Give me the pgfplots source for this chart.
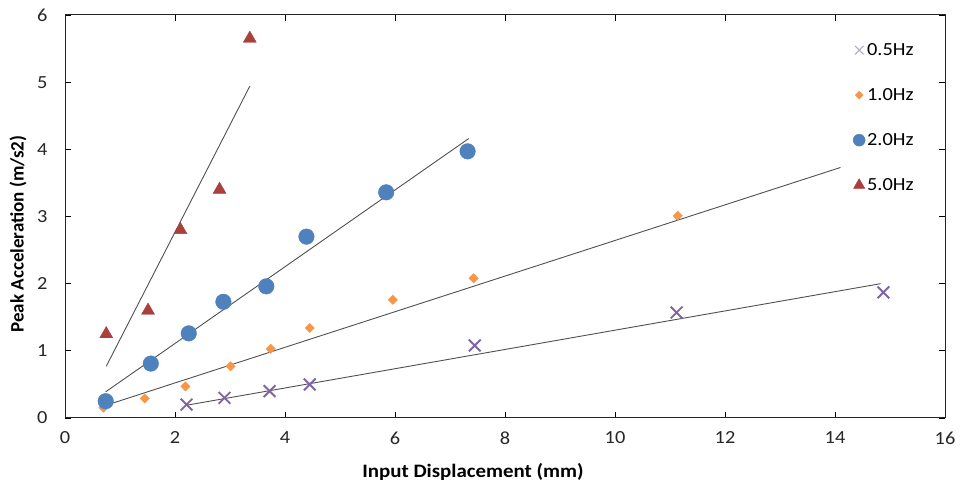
\documentclass[border=0pt]{standalone}
\usepackage{fontspec}
\setmainfont{Carlito}[FakeStretch=1.1]
\newfontfamily\vfont{Carlito}
\usepackage{pgfplots}
\pgfplotsset{compat=1.18}
\definecolor{cpurple}{HTML}{7F64A2}
\definecolor{clpurple}{HTML}{B3A5C8}
\definecolor{corange}{HTML}{F79646}
\definecolor{cblue}{HTML}{4F81BD}
\definecolor{cred}{HTML}{A9403C}
\definecolor{ctrend}{HTML}{505050}
\begin{document}
\begin{tikzpicture}[x=1pt,y=1pt]
\useasboundingbox (0,0) rectangle (965,486);
\begin{axis}[
  at={(65pt,68pt)}, anchor=south west,
  scale only axis, width=880pt, height=403pt,
  xmin=0, xmax=16, ymin=0, ymax=6,
  xtick={0,2,...,16}, ytick={0,1,...,6},
  tick align=inside, major tick length=6pt,
  tick style={black, line width=0.8pt},
  axis line style={black!85, line width=1pt},
  /pgf/number format/assume math mode=true,
  ticklabel style={font=\fontsize{18.5}{18.5}\selectfont, text=black!85},
  xticklabel style={yshift=-10pt},
  yticklabel style={xshift=-14pt},
  xlabel={Input Displacement (mm)},
  ylabel={Peak Acceleration (m/s2)},
  xlabel style={font=\bfseries\fontsize{19}{19}\selectfont, at={(axis description cs:0.4636,-0.134)}, anchor=center},
  ylabel style={font=\vfont\bfseries\fontsize{19}{19}\selectfont, at={(axis description cs:-0.0534,0.4566)}, anchor=center},
  legend style={draw=none, fill=none, at={(axis description cs:0.892,0.94)}, anchor=north west,
    font=\fontsize{18.5}{18.5}\selectfont, row sep=27.5pt, legend cell align=left},
  legend image code/.code={\draw[#1] plot coordinates {(0pt,0pt)};},
]
% trend lines
\addplot[ctrend, line width=0.9pt, forget plot] coordinates {(2.21,0.19) (14.83,2.00)};
\addplot[ctrend, line width=0.9pt, forget plot] coordinates {(0.71,0.18) (14.10,3.73)};
\addplot[ctrend, line width=0.9pt, forget plot] coordinates {(0.74,0.39) (7.34,4.16)};
\addplot[ctrend, line width=0.9pt, forget plot] coordinates {(0.75,0.77) (3.36,4.94)};
% data
\addplot[only marks, mark=x, mark size=8.3pt, cpurple, line width=1.9pt,
  legend image post style={mark size=6pt, line width=1pt, clpurple}] coordinates {
(2.21,0.20) (2.90,0.30) (3.72,0.40) (4.45,0.50) (7.45,1.08) (11.12,1.57) (14.88,1.87)};
\addlegendentry{0.5Hz}
\addplot[only marks, mark=square*, mark size=3.3pt, mark options={rotate=45, fill=corange, draw=corange},
  legend image post style={mark size=2.8pt}] coordinates {
(0.70,0.155) (1.45,0.29) (2.19,0.47) (3.01,0.77) (3.74,1.03) (4.45,1.34) (5.96,1.76) (7.43,2.08) (11.14,3.01)};
\addlegendentry{1.0Hz}
\addplot[only marks, mark=*, mark size=7.8pt, mark options={fill=cblue, draw=cblue},
  legend image post style={mark size=6pt}] coordinates {
(0.74,0.25) (1.56,0.81) (2.25,1.26) (2.88,1.73) (3.66,1.96) (4.39,2.70) (5.84,3.36) (7.32,3.97)};
\addlegendentry{2.0Hz}
\addplot[only marks, mark=triangle*, mark size=7.5pt, mark options={fill=cred, draw=cred},
  legend image post style={mark size=6.5pt}] coordinates {
(0.75,1.25) (1.51,1.60) (2.10,2.80) (2.81,3.40) (3.36,5.65)};
\addlegendentry{5.0Hz}
\end{axis}
\end{tikzpicture}
\end{document}
